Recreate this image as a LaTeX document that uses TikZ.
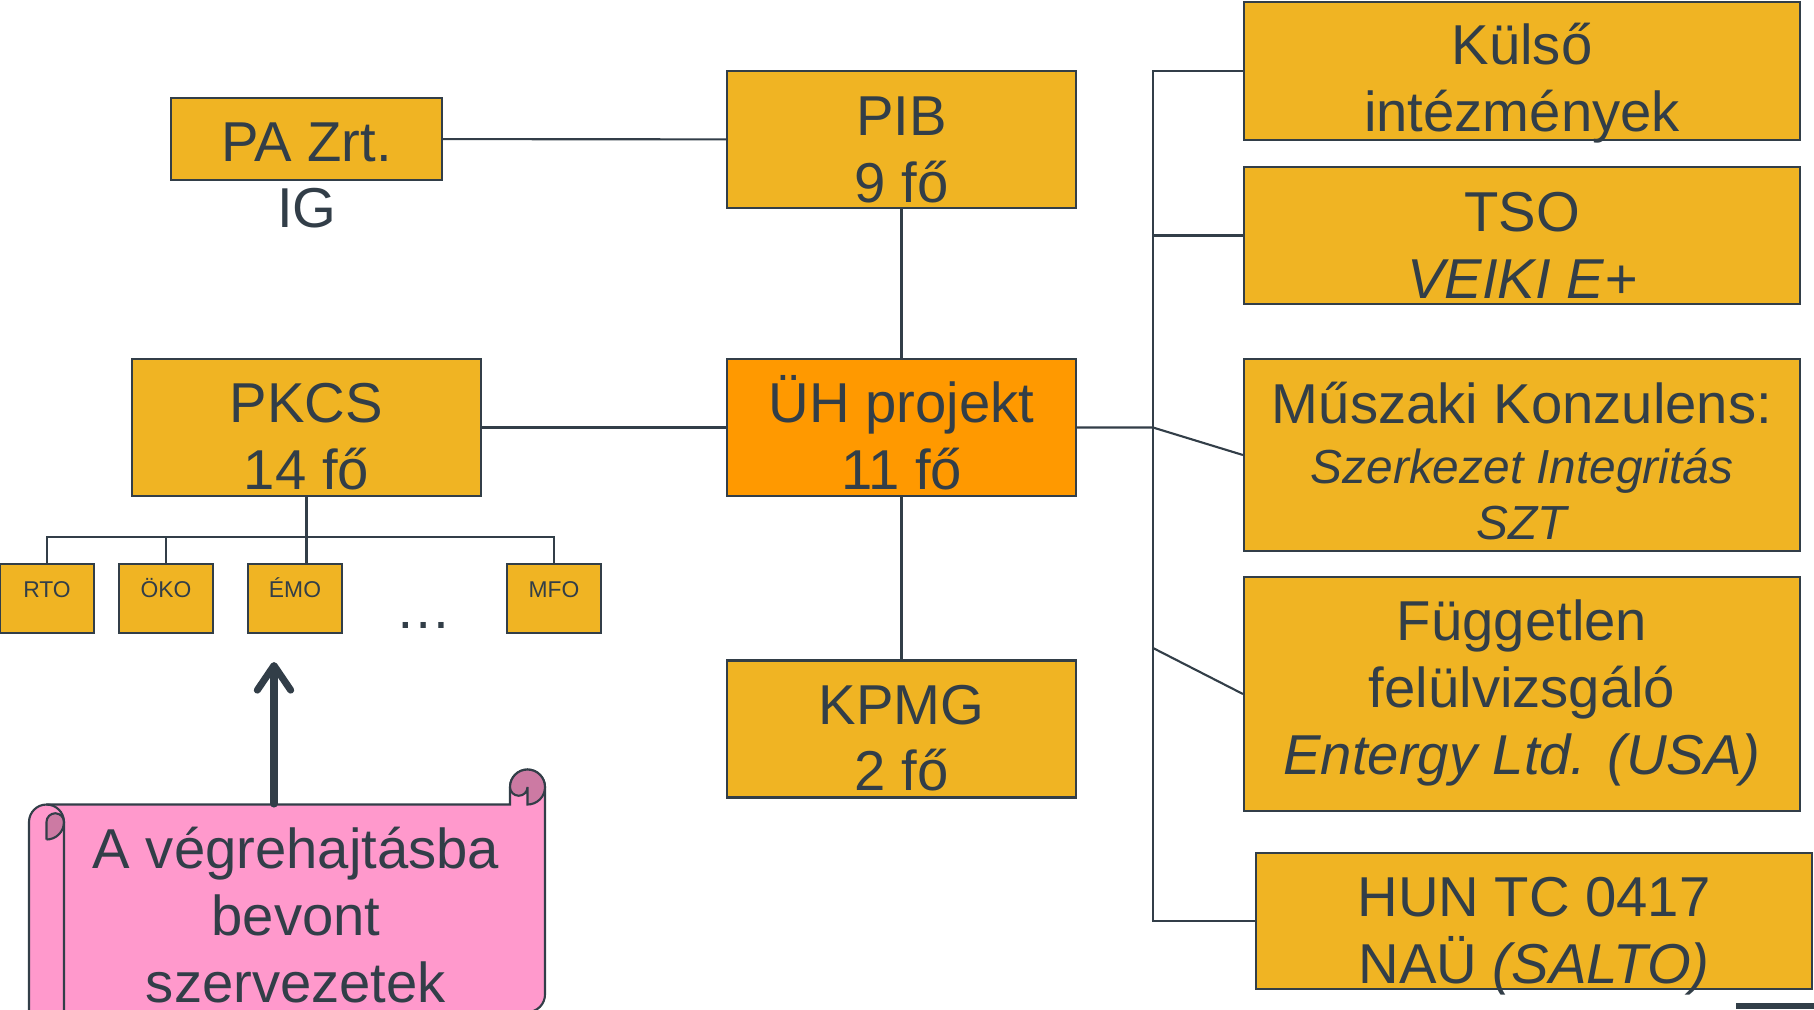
\documentclass[tikz,border=0pt]{standalone}
\usepackage{fontspec}
\setmainfont{Liberation Sans}
\usetikzlibrary{arrows.meta}
\definecolor{gold}{RGB}{240,180,35}
\definecolor{uhorange}{RGB}{255,153,0}
\definecolor{slate}{RGB}{50,62,72}
\definecolor{scrollpink}{RGB}{255,153,204}
\definecolor{scrolldark}{RGB}{204,122,163}
\newcommand{\subit}{\fontsize{13.6}{16.5}\selectfont\itshape}
\newcommand{\topgap}[1]{\rule{0pt}{#1}}
\newcommand{\botgap}[1]{\rule[-#1]{0pt}{0pt}}

\begin{document}
\begin{tikzpicture}[line width=0.6pt, color=slate,
    box/.style={draw=slate, fill=gold, text=slate, minimum width=3.49cm, minimum height=1.37cm,
        inner sep=0pt, align=center, font=\fontsize{16}{19}\selectfont},
    ext/.style={box, minimum width=5.56cm},
    unit/.style={draw=slate, fill=gold, text=slate, minimum width=0.935cm, minimum height=0.69cm,
        inner sep=0pt, text height=4.7pt, text depth=5.5pt, font=\fontsize{6.5}{8}\selectfont},
    plain/.style={text=slate, inner sep=0pt, align=center, font=\fontsize{16}{19}\selectfont}]
    \useasboundingbox (0,0) rectangle (18.14,10.09);
    \clip (0,0) rectangle (18.14,10.09);

    % scroll
    \filldraw[fill=scrollpink] (0.29,-0.03) -- (0.29,1.87) arc[start angle=180,end angle=90,radius=0.175]
        -- (5.10,2.045) -- (5.10,2.22) arc[start angle=180,end angle=0,radius=0.175]
        -- (5.45,0.145) arc[start angle=0,end angle=-90,radius=0.175] -- cycle;
    \fill[scrolldark] (0.465,1.87) arc[start angle=180,end angle=0,radius=0.0875]
        arc[start angle=0,end angle=-90,radius=0.175] -- cycle;
    \draw (0.465,1.695) -- (0.465,1.87) arc[start angle=180,end angle=0,radius=0.0875]
        arc[start angle=0,end angle=-90,radius=0.175];
    \draw (0.465,2.045) arc[start angle=90,end angle=0,radius=0.175] -- (0.64,-0.03);
    \fill[scrolldark] (5.10,2.22) arc[start angle=180,end angle=-90,radius=0.175] -- (5.275,2.22)
        arc[start angle=0,end angle=-180,radius=0.0875] -- cycle;
    \draw (5.10,2.22) arc[start angle=180,end angle=-90,radius=0.175] -- (5.275,2.22)
        arc[start angle=0,end angle=-180,radius=0.0875];
    \node[plain] (SC) at (2.96,0.94) {A végrehajtásba\\bevont\\szervezetek};

    \node[box, minimum width=2.71cm, minimum height=0.82cm] (PA) at (3.065,8.70) {\topgap{12.8pt}PA Zrt.};
    \node[plain] (IG) at (3.07,8.01) {IG};
    \node[box] (PIB) at (9.015,8.695) {\topgap{16.8pt}PIB\\9 fő};
    \node[box] (PKCS) at (3.065,5.815) {\topgap{16.4pt}PKCS\\14 fő};
    \node[box, fill=uhorange] (UH) at (9.015,5.815) {\topgap{16.4pt}ÜH projekt\\11 fő};
    \node[box] (KPMG) at (9.015,2.80) {\topgap{16.4pt}KPMG\\2 fő};

    \node[unit] (U1) at (0.47,4.105) {RTO};
    \node[unit] (U2) at (1.66,4.105) {ÖKO};
    \node[unit] (U3) at (2.95,4.105) {ÉMO};
    \node[unit] (U4) at (5.54,4.105) {MFO};
    \node[plain, anchor=base] (DOTS) at (4.24,3.81) {…};

    \node[ext, minimum height=1.38cm] (E1) at (15.22,9.38) {\topgap{15.4pt}Külső\\\smash{intézmények}};
    \node[ext] (E2) at (15.22,7.735) {\topgap{16.8pt}TSO\\\itshape VEIKI E+};
    \node[ext, minimum height=1.92cm] (E3) at (15.22,5.54)
        {\topgap{15.2pt}Műszaki Konzulens:\\[-1.9pt]\subit Szerkezet Integritás\\[-3pt]\subit SZT};
    \node[ext, minimum height=2.34cm] (E4) at (15.22,3.15)
        {Független\\felülvizsgáló\\\itshape Entergy Ltd. (USA)\botgap{4pt}};
    \node[ext, minimum height=1.36cm] (E5) at (15.34,0.88)
        {\topgap{16.6pt}HUN TC 0417\\\smash{NAÜ \textit{(SALTO)}}};

    \coordinate (B) at (3.065,4.72);
    \coordinate (J1) at (11.53,5.815);
    \coordinate (J2) at (11.53,3.61);
    \coordinate (A0) at (2.74,2.05);
    \coordinate (A1) at (2.74,3.47);

    \draw (PA) -- (PIB);
    \draw (PIB) -- (UH);
    \draw (PKCS) -- (UH);
    \draw (UH) -- (KPMG);
    \draw (PKCS.south) -- (PKCS.south |- U3.north);
    \draw (U1.north) |- (B) -| (U4.north);
    \draw (U2.north) -- (U2.north |- B);

    \draw (E1.west) -| (J1) |- (E5.west);
    \draw (E2.west) -- (E2.west -| J1);
    \draw (UH.east) -- (J1) -- (E3.west);
    \draw (J2) -- (E4.west);

    \draw[-{Straight Barb[length=7pt,width=9.5pt,round]}, line width=2pt, line cap=round] (A0) -- (A1);

    \fill[slate] (17.36,0) rectangle (18.14,0.06);
\end{tikzpicture}
\end{document}
